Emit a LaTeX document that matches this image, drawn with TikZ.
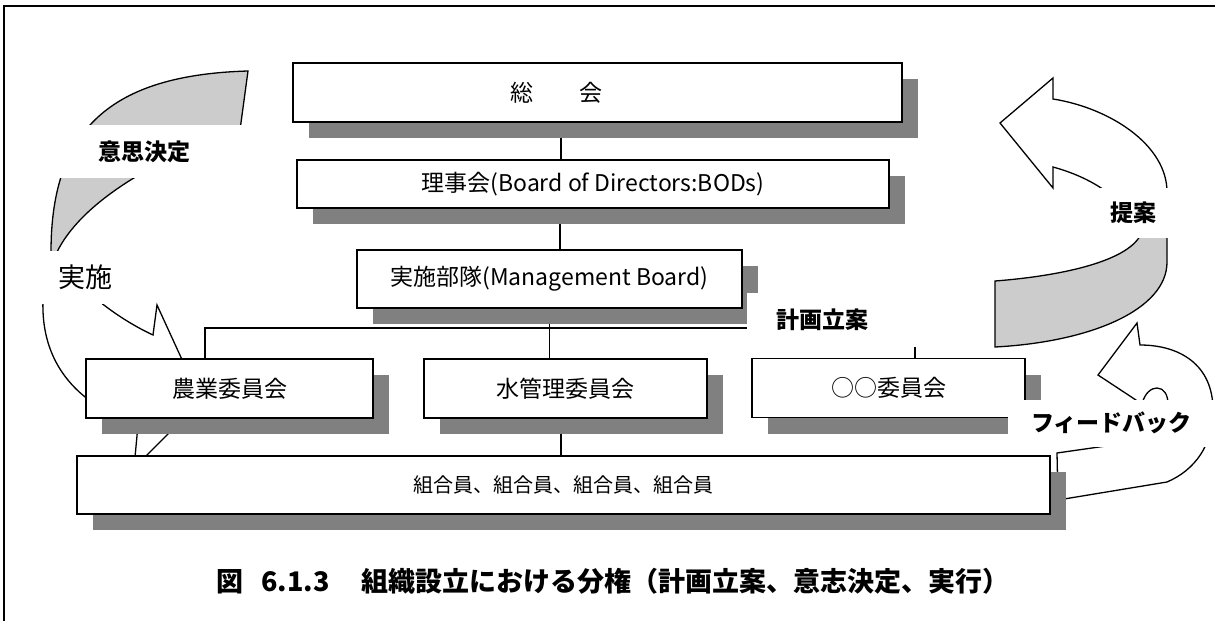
\documentclass[tikz,border=0pt]{standalone}
\usepackage{fontspec}
\setmainfont{Noto Sans CJK JP}
\usetikzlibrary{shadows}
\pgfdeclarelayer{background}
\pgfdeclarelayer{foreground}
\pgfsetlayers{background,main,foreground}
\definecolor{shadowgray}{HTML}{808080}
\definecolor{bandgray}{HTML}{CCCCCC}
\begin{document}
\begin{tikzpicture}[x=1pt,y=-1pt,
  orgbox/.style={draw=black, line width=1.5pt, fill=white, inner sep=0pt,
    font=\fontsize{23}{26}\selectfont,
    general shadow={fill=shadowgray, shadow xshift=16pt, shadow yshift=-16pt}},
  conn/.style={draw=black, line width=1.2pt},
  ribbon/.style={draw=black, line width=1.3pt, line join=miter},
  lbl/.style={fill=white, inner sep=0pt, font=\bfseries\fontsize{23}{26}\selectfont},
]
\useasboundingbox (0,0) rectangle (1215,621);

% frame
\draw[line width=1.5pt] (4,621) -- (4,6) -- (1215,6);

% boxes
\node[orgbox, minimum width=609pt, minimum height=59pt] (soukai) at (597.5,92.5) {総\hspace{2em}会\hspace*{83pt}};
\node[orgbox, minimum width=592pt, minimum height=48pt] (riji) at (593,184) {理事会(Board of Directors:BODs)};
\node[orgbox, minimum width=385pt, minimum height=58pt] (jisshi) at (549.5,279) {実施部隊(Management Board)};
\node[orgbox, minimum width=287pt, minimum height=59pt] (nougyou) at (229.5,388.5) {農業委員会};
\node[orgbox, minimum width=283pt, minimum height=59pt] (mizu) at (565.5,388.5) {水管理委員会};
\node[orgbox, minimum width=273pt, minimum height=59pt] (oo) at (888.5,388) {○○委員会};
\node[orgbox, minimum width=973pt, minimum height=58pt, font=\fontsize{20}{24}\selectfont] (kumiai) at (563.5,485) {組合員、組合員、組合員、組合員};

% caption
\node[inner sep=0pt, font=\bfseries\fontsize{27}{30}\selectfont] (caption) at (613,581)
  {図\hspace{18pt}6.1.3\hspace{32pt}組織設立における分権（計画立案、意志決定、実行）};

% helper coordinates
\coordinate (xa) at (561,0);
\coordinate (xb) at (560,0);
\coordinate (tapL) at (205,328);
\coordinate (tapR) at (915,328);

\begin{pgfonlayer}{background}
  % connectors
  \draw[conn] (soukai.south -| xa) -- (riji.north -| xa);
  \draw[conn] (riji.south -| xb) -- (jisshi.north -| xb);
  \draw[conn] (jisshi.south) -- (mizu.north -| jisshi.south);
  \draw[conn] (tapL |- nougyou.north) -- (tapL) -- (tapR) -- (tapR |- oo.north);
  \draw[conn] (mizu.south -| xa) -- (kumiai.north -| xa);

  % left gray band (decision)
  \path[ribbon, fill=bandgray] (51,252) .. controls (51,130) and (110,75) .. (248,71)
     -- (240,130) .. controls (150,160) and (80,205) .. (57,252) -- cycle;
  % left white arrow (implementation)
  \path[ribbon, fill=white] (50,256) .. controls (30,330) and (50,395) .. (138,425)
     -- (134,468) -- (201,401) -- (157,305) -- (153,335)
     .. controls (110,315) and (70,280) .. (56,254) -- cycle;

  % right proposal arrow: gray back face
  \path[ribbon, fill=bandgray] (995,281) .. controls (1060,276) and (1125,262) .. (1140,236)
     -- (1167,236) -- (1167,262) .. controls (1167,310) and (1090,342) .. (995,347) -- cycle;
  % right proposal arrow: white front face
  \path[ribbon, fill=white] (1000,123) -- (1053,78) -- (1053,99)
     .. controls (1110,108) and (1167,145) .. (1167,192) -- (1167,236) -- (1140,236)
     .. controls (1130,205) and (1100,180) .. (1053,167) -- (1053,188) -- cycle;

  % feedback arrow
  \path[ribbon, fill=white] (1057,453) -- (1058,500) -- (1167,482)
     .. controls (1195,470) and (1213,445) .. (1213,410)
     .. controls (1213,365) and (1180,345) .. (1140,345)
     -- (1137,323) -- (1098,375) -- (1142,404)
     .. controls (1145,392) and (1152,388) .. (1157,388)
     .. controls (1164,388) and (1168,395) .. (1168,404)
     .. controls (1168,430) and (1140,443) .. (1113,445) -- cycle;
\end{pgfonlayer}

\begin{pgfonlayer}{foreground}
  \node[lbl, minimum width=172pt, minimum height=54pt] (keikaku) at (833,320) {計画立案\hspace*{22pt}};
  \node[lbl, minimum width=100pt, minimum height=50pt] (teian) at (1140,213) {提案\hspace*{14pt}};
  \node[lbl, minimum width=210pt, minimum height=53pt] (ishi) at (150,151.5) {意思決定\hspace*{12pt}};
  \node[fill=white, inner sep=0pt, minimum width=90pt, minimum height=53pt,
        font=\fontsize{27}{30}\selectfont] (jisshilbl) at (85,277) {実施};
  \node[lbl, minimum width=207pt, minimum height=47pt] (feedback) at (1111.5,423.5) {\raisebox{4pt}{フィードバック}};
\end{pgfonlayer}
\end{tikzpicture}
\end{document}
